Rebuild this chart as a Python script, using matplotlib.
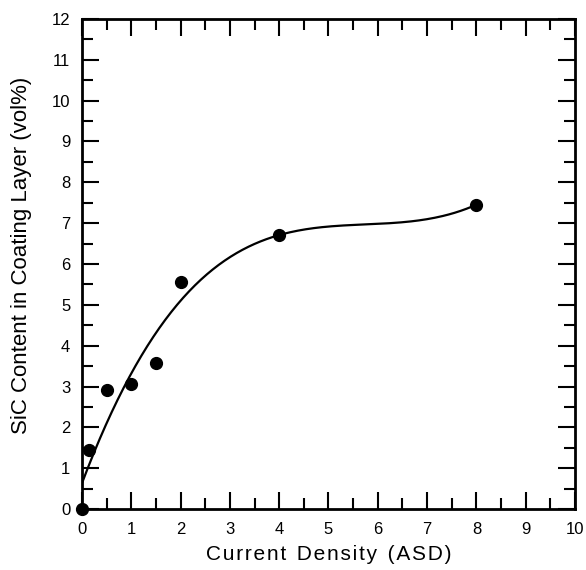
import numpy as np
import matplotlib
matplotlib.use('Agg')
import matplotlib.pyplot as plt
from matplotlib.ticker import MultipleLocator

plt.rcParams['font.family'] = ['Liberation Sans', 'DejaVu Sans']

# Measured SiC content vs. current density
current_density = [0, 0.15, 0.5, 1.0, 1.5, 2.0, 4.0, 8.0]
sic_content = [0.0, 1.45, 2.92, 3.07, 3.58, 5.55, 6.71, 7.45]

# Cubic trend line through the measurements
coef = np.polyfit(current_density, sic_content, 3)
xfit = np.linspace(0, 8, 200)
yfit = np.polyval(coef, xfit)

fig = plt.figure(figsize=(5.86, 5.70), dpi=100)
ax = fig.add_axes([0.1399, 0.107, 0.8413, 0.8597])

ax.plot(xfit, yfit, color='black', linewidth=1.6, zorder=2)
ax.plot(current_density, sic_content, 'o', color='black', markersize=8.5,
        clip_on=False, zorder=3)

ax.set_xlim(0, 10)
ax.set_ylim(0, 12)
ax.xaxis.set_major_locator(MultipleLocator(1))
ax.xaxis.set_minor_locator(MultipleLocator(0.5))
ax.yaxis.set_major_locator(MultipleLocator(1))
ax.yaxis.set_minor_locator(MultipleLocator(0.5))

ax.tick_params(which='both', direction='in', top=True, right=True,
               width=1.5, labelsize=12)
ax.tick_params(which='major', length=12)
ax.tick_params(which='minor', length=8)
ax.tick_params(axis='x', pad=9)
ax.tick_params(axis='y', pad=8.5)
for sp in ax.spines.values():
    sp.set_linewidth(2.0)

# spaced-out axis title
xlab = '\u2002'.join('\u200a'.join(w) for w in 'Current Density (ASD)'.split(' '))
ax.set_xlabel(xlab, fontsize=15, va='center')
ax.xaxis.set_label_coords(0.5, -0.092)
ax.set_ylabel('SiC Content in Coating Layer (vol%)', fontsize=16, va='center')
ax.yaxis.set_label_coords(-0.122, 0.518)

fig.savefig('out.png', dpi=100)
